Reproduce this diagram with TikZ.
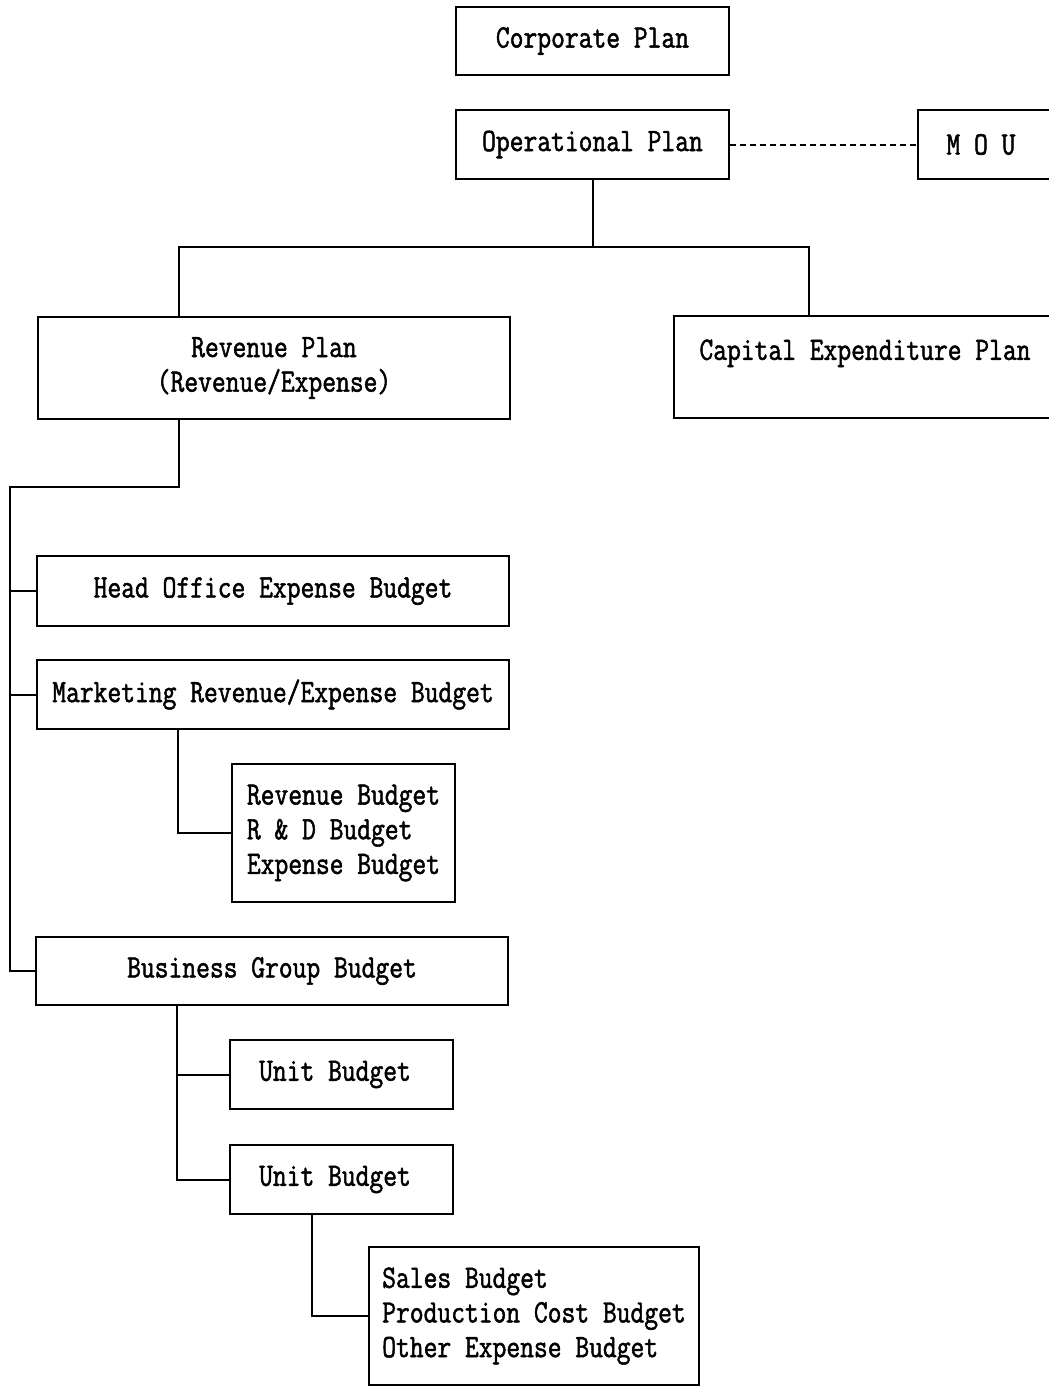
\documentclass[tikz,border=0pt]{standalone}
\usepackage{fontspec}
\newfontfamily\chartfont[FakeStretch=0.82,FakeBold=1.5]{Latin Modern Mono}
\begin{document}
\begin{tikzpicture}[x=0.75pt,y=-0.75pt,
  box/.style={draw, line width=1.3pt, rectangle, inner sep=0pt, align=center,
    font=\chartfont\fontsize{24.5}{26}\selectfont},
  listbox/.style={box, align=left},
  link/.style={line width=1.5pt}]
\useasboundingbox (0,0) rectangle (1049,1386);
\clip (0,0) rectangle (1049,1386);
\fill[white] (0,0) rectangle (1049,1386);

% planning level
\node[box, minimum width=204.75pt, minimum height=51pt] (corp) at (592.5,41) {Corporate Plan};
\node[box, minimum width=204.75pt, minimum height=51.75pt] (oper) at (592.5,144.5) {Operational Plan};
\node[box, minimum width=114pt, minimum height=51.75pt] (mou) at (994,144.5) {M O U\hspace*{19.5pt}};

\node[box, minimum width=354pt, minimum height=76.5pt] (rev) at (274,368) {Revenue Plan\\(Revenue/Expense)};
\node[box, minimum width=297pt, minimum height=76.5pt] (cap) at (872,367) {Capital Expenditure Plan\hspace*{10.5pt}\\\mbox{}};

% budget level
\node[box, minimum width=354pt, minimum height=52.5pt] (head) at (273,591) {Head Office Expense Budget};
\node[box, minimum width=354pt, minimum height=51.75pt] (mkt) at (273,694.5) {Marketing Revenue/Expense Budget};
\node[listbox, minimum width=167.25pt, minimum height=103.5pt] (rbud) at (343.5,833) {Revenue Budget\\R \& D Budget\\Expense Budget};
\node[box, minimum width=354pt, minimum height=51pt] (bg) at (272,971) {Business Group Budget};
\node[box, minimum width=167.25pt, minimum height=51.75pt] (u1) at (341.5,1074.5) {Unit Budget\hspace*{9.75pt}};
\node[box, minimum width=167.25pt, minimum height=51.75pt] (u2) at (341.5,1179.5) {Unit Budget\hspace*{9.75pt}};
\node[listbox, minimum width=247.5pt, minimum height=103.5pt] (sales) at (534,1316) {Sales Budget\\Production Cost Budget\\Other Expense Budget};

% branch points
\coordinate (b1) at (179,247);
\coordinate (b2) at (809,247);
\coordinate (t1) at (179,487);
\coordinate (t2) at (10,487);
\coordinate (m1) at (178,0);
\coordinate (g1) at (177,0);
\coordinate (s1) at (312,0);

% connectors
\draw[link, dash pattern=on 4.5pt off 3pt] (oper.east) -- (mou.west);
\draw[link] (oper.south) -- (oper.south |- b1);
\draw[link] (b1 |- rev.north) -- (b1) -- (b2) -- (b2 |- cap.north);
\draw[link] (t1 |- rev.south) -- (t1) -- (t2) -- (t2 |- bg.west) -- (bg.west);
\draw[link] (t2 |- head.west) -- (head.west);
\draw[link] (t2 |- mkt.west) -- (mkt.west);
\draw[link] (m1 |- mkt.south) |- (rbud.west);
\draw[link] (g1 |- bg.south) |- (u2.west);
\draw[link] (g1 |- u1.west) -- (u1.west);
\draw[link] (s1 |- u2.south) |- (sales.west);
\end{tikzpicture}
\end{document}
